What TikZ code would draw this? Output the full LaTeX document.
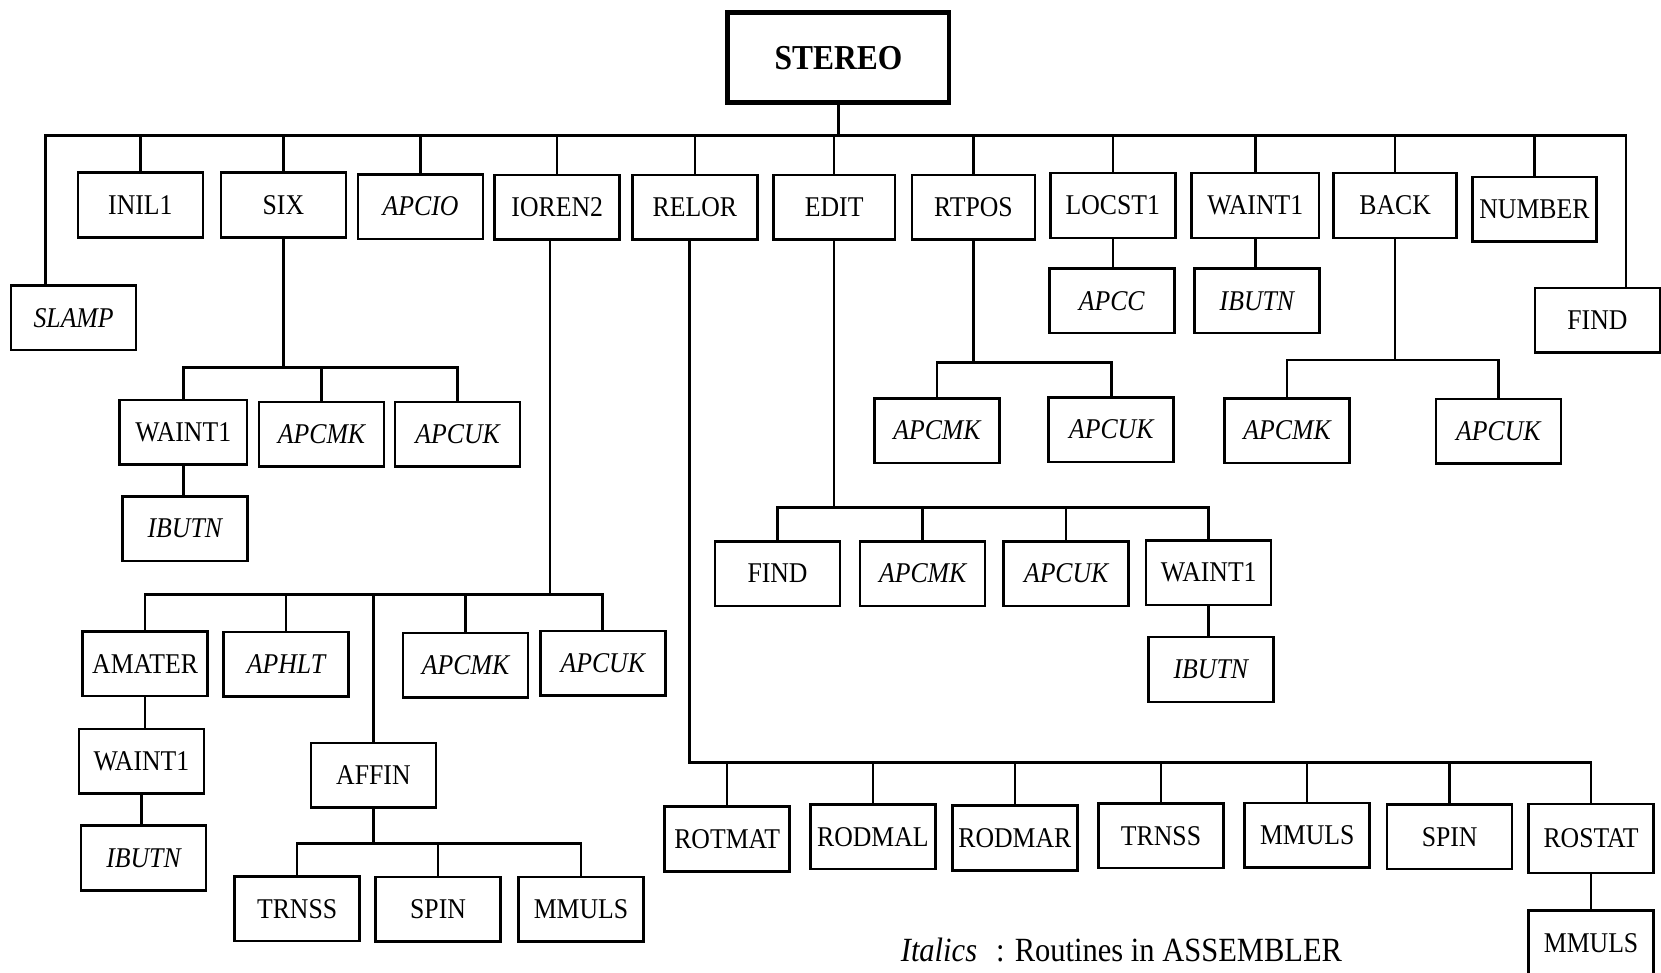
\documentclass[tikz,border=0pt]{standalone}
\usepackage{fontspec}
\setmainfont{Liberation Serif}[FakeStretch=0.9]
\usetikzlibrary{calc}
\begin{document}
\begin{tikzpicture}[x=0.5pt,y=-0.5pt,
  box/.style={draw,line width=1.2pt,inner sep=0pt,minimum width=59pt,minimum height=30.5pt,
    font=\fontsize{13.5}{16}\selectfont},
  asm/.style={box,font=\fontsize{13.5}{16}\selectfont\itshape},
  link/.style={line width=1.2pt},
  legend/.style={anchor=base west,inner sep=0pt,font=\fontsize{16}{19}\selectfont}]
\useasboundingbox (0,0) rectangle (1568,918);

% root
\node[box,line width=2.2pt,minimum width=104.5pt,minimum height=42.5pt,
  font=\fontsize{16.5}{19}\selectfont\bfseries] (stereo) at (791.5,54.5) {STEREO};

% first level
\node[asm] (slamp) at (69.5,300) {SLAMP};
\node[box] (inil) at (132.5,193.5) {INIL1};
\node[box] (six) at (267.5,193.5) {SIX};
\node[asm] (apcio) at (397,195) {APCIO};
\node[box] (ioren) at (526,195.5) {IOREN2};
\node[box] (relor) at (656,195.5) {RELOR};
\node[box,minimum width=57.5pt] (edit) at (787.5,195.5) {EDIT};
\node[box,minimum width=58pt] (rtpos) at (919,195.5) {RTPOS};
\node[box] (locst) at (1050.5,194) {LOCST1};
\node[box,minimum width=60pt] (waintA) at (1185,194) {WAINT1};
\node[box,minimum width=58pt] (back) at (1317,194) {BACK};
\node[box,minimum width=58.5pt] (number) at (1448.5,197.5) {NUMBER};
\node[box] (findA) at (1508,302.5) {FIND};

% LOCST1 / WAINT1
\node[asm] (apcc) at (1049.5,284) {APCC};
\node[asm] (ibutnA) at (1186.5,284) {IBUTN};

% RTPOS
\node[asm] (rtmk) at (884.5,406.5) {APCMK};
\node[asm] (rtuk) at (1049,405.5) {APCUK};

% BACK
\node[asm] (bkmk) at (1215,406.5) {APCMK};
\node[asm] (bkuk) at (1414.5,407) {APCUK};

% SIX
\node[box,minimum width=60pt] (sxwt) at (173,408) {WAINT1};
\node[asm] (sxmk) at (303.5,410) {APCMK};
\node[asm] (sxuk) at (432,410) {APCUK};
\node[asm] (sxib) at (174.5,499) {IBUTN};

% IOREN2
\node[box] (amater) at (137,626.5) {AMATER};
\node[asm] (aphlt) at (270,627) {APHLT};
\node[box] (affin) at (352.5,732) {AFFIN};
\node[asm] (iomk) at (439.5,628) {APCMK};
\node[asm] (iouk) at (569,626) {APCUK};
\node[box] (amwt) at (133.5,718.5) {WAINT1};
\node[asm] (amib) at (135.5,810) {IBUTN};
\node[box] (aftr) at (280.5,858) {TRNSS};
\node[box] (afsp) at (413.5,858.5) {SPIN};
\node[box] (afmm) at (548.5,858.5) {MMULS};

% EDIT
\node[box] (edfd) at (734,541.5) {FIND};
\node[asm] (edmk) at (871,541.5) {APCMK};
\node[asm] (eduk) at (1006.5,541.5) {APCUK};
\node[box] (edwt) at (1141,540.5) {WAINT1};
\node[asm] (edib) at (1143,632) {IBUTN};

% RELOR
\node[box] (rotmat) at (686.5,792) {ROTMAT};
\node[box] (rodmal) at (824,790) {RODMAL};
\node[box] (rodmar) at (958,791) {RODMAR};
\node[box] (rltr) at (1096,789) {TRNSS};
\node[box] (rlmm) at (1234,788.5) {MMULS};
\node[box] (rlsp) at (1368.5,790) {SPIN};
\node[box,minimum height=32.5pt] (rostat) at (1502,791.5) {ROSTAT};
\node[box] (rsmm) at (1502,890) {MMULS};

% legend
\node[legend,font=\fontsize{16}{19}\selectfont\itshape] (legkey) at (850,908) {Italics};
\node[legend] (legtext) at (940,908) {: Routines in ASSEMBLER};

% bus levels
\coordinate (topbus) at (0,128);
\coordinate (sixbus) at (0,347);
\coordinate (iobus) at (0,561);
\coordinate (afbus) at (0,796);
\coordinate (edbus) at (0,479);
\coordinate (rtbus) at (0,342);
\coordinate (bkbus) at (0,340);
\coordinate (rlbus) at (0,720);

% connector end points off the box centres
\coordinate (slampin) at ([xshift=-13.25pt]slamp.north);
\coordinate (findin) at ([xshift=13.5pt]findA.north);
\coordinate (iorenout) at ([xshift=-3.5pt]ioren.south);
\coordinate (relorout) at ([xshift=-2.5pt]relor.south);

% STEREO
\draw[link] (stereo.south) -- (stereo.south |- topbus);
\draw[link] (slampin) |- (findin |- topbus) -- (findin);
\foreach \n in {inil,six,apcio,ioren,relor,edit,rtpos,locst,waintA,back,number}
  \draw[link] (\n.north) -- (\n.north |- topbus);

% single children, straight down from the parent
\draw[link] (locst.south) -- (locst.south |- apcc.north);
\draw[link] (waintA.south) -- (waintA.south |- ibutnA.north);
\draw[link] (sxwt.south) -- (sxwt.south |- sxib.north);
\draw[link] (amater.south) -- (amater.south |- amwt.north);
\draw[link] (amwt.south) -- (amwt.south |- amib.north);
\draw[link] (edwt.south) -- (edwt.south |- edib.north);
\draw[link] (rostat.south) -- (rostat.south |- rsmm.north);

% SIX
\draw[link] (six.south) -- (six.south |- sixbus);
\draw[link] (sxwt.north) |- (sxuk.north |- sixbus) -- (sxuk.north);
\draw[link] (sxmk.north) -- (sxmk.north |- sixbus);

% RTPOS
\draw[link] (rtpos.south) -- (rtpos.south |- rtbus);
\draw[link] (rtmk.north) |- (rtuk.north |- rtbus) -- (rtuk.north);

% BACK
\draw[link] (back.south) -- (back.south |- bkbus);
\draw[link] (bkmk.north) |- (bkuk.north |- bkbus) -- (bkuk.north);

% IOREN2
\draw[link] (iorenout) -- (iorenout |- iobus);
\draw[link] (amater.north) |- (iouk.north |- iobus) -- (iouk.north);
\foreach \n in {aphlt,affin,iomk}
  \draw[link] (\n.north) -- (\n.north |- iobus);

% AFFIN
\draw[link] (affin.south) -- (affin.south |- afbus);
\draw[link] (aftr.north) |- (afmm.north |- afbus) -- (afmm.north);
\draw[link] (afsp.north) -- (afsp.north |- afbus);

% EDIT
\draw[link] (edit.south) -- (edit.south |- edbus);
\draw[link] (edfd.north) |- (edwt.north |- edbus) -- (edwt.north);
\foreach \n in {edmk,eduk}
  \draw[link] (\n.north) -- (\n.north |- edbus);

% RELOR
\draw[link] (relorout) |- (rostat.north |- rlbus) -- (rostat.north);
\foreach \n in {rotmat,rodmal,rodmar,rltr,rlmm,rlsp}
  \draw[link] (\n.north) -- (\n.north |- rlbus);
\end{tikzpicture}
\end{document}
